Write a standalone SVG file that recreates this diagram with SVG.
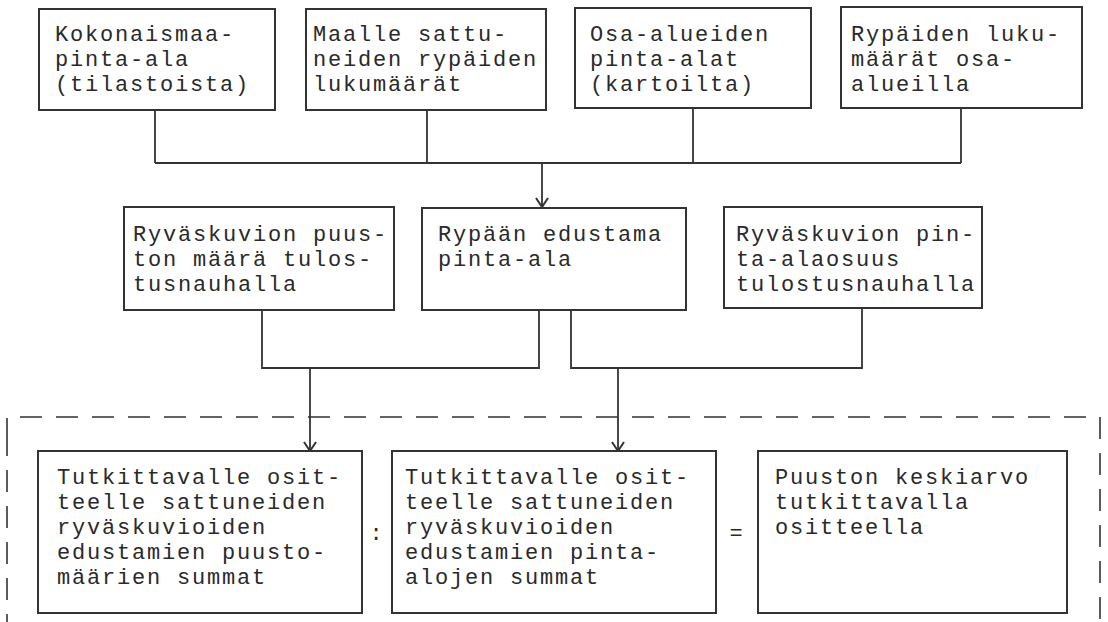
<svg xmlns="http://www.w3.org/2000/svg" width="1108" height="622" viewBox="0 0 1108 622">
<style>
.box{fill:#fff;stroke:#333;stroke-width:2}
.t{font-family:"Liberation Mono","Courier New",monospace;font-size:22px;letter-spacing:1.8px;fill:#2a2a2a}
.c{fill:none;stroke:#333;stroke-width:1.8}
.d{fill:none;stroke:#333;stroke-width:1.6;stroke-dasharray:22 14}
</style>
<defs>
<marker id="ah" viewBox="0 0 12 14" refX="11" refY="7" markerWidth="12" markerHeight="14" markerUnits="userSpaceOnUse" orient="auto">
<polyline points="2,1 11,7 2,13" fill="none" stroke="#333" stroke-width="2"/>
</marker>
</defs>
<rect width="1108" height="622" fill="#fff"/>
<g id="frame">
<path class="d" d="M7,440 V417 H1100 V622"/>
<path class="d" d="M7,440 V622" style="stroke-dashoffset:6"/>
</g>
<g id="connectors">
<path class="c" d="M155,110 V163 M427,110 V163 M693,108 V163 M961,108 V163 M155,163 H961"/>
<path class="c" d="M542,163 V207" marker-end="url(#ah)"/>
<path class="c" d="M262,310 V368 H539 V310"/>
<path class="c" d="M571,310 V368 H862 V308"/>
<path class="c" d="M310,368 V451" marker-end="url(#ah)"/>
<path class="c" d="M618,368 V451" marker-end="url(#ah)"/>
</g>
<g id="n1"><rect class="box" x="39" y="9" width="236" height="101"/>
<text class="t" x="55" y="41">Kokonaismaa-</text><text class="t" x="55" y="66">pinta-ala</text><text class="t" x="55" y="91">(tilastoista)</text></g>
<g id="n2"><rect class="box" x="306" y="9" width="240" height="101"/>
<text class="t" x="313" y="41">Maalle sattu-</text><text class="t" x="313" y="66">neiden rypäiden</text><text class="t" x="313" y="91">lukumäärät</text></g>
<g id="n3"><rect class="box" x="575" y="8" width="236" height="100"/>
<text class="t" x="590" y="41">Osa-alueiden</text><text class="t" x="590" y="66">pinta-alat</text><text class="t" x="590" y="91">(kartoilta)</text></g>
<g id="n4"><rect class="box" x="841" y="7" width="241" height="101"/>
<text class="t" x="851" y="41">Rypäiden luku-</text><text class="t" x="851" y="66">määrät osa-</text><text class="t" x="851" y="91">alueilla</text></g>
<g id="n5"><rect class="box" x="124" y="207" width="270" height="103"/>
<text class="t" x="133" y="241">Ryväskuvion puus-</text><text class="t" x="133" y="266">ton määrä tulos-</text><text class="t" x="133" y="291">tusnauhalla</text></g>
<g id="n6"><rect class="box" x="422" y="208" width="264" height="102"/>
<text class="t" x="438" y="241">Rypään edustama</text><text class="t" x="438" y="266">pinta-ala</text></g>
<g id="n7"><rect class="box" x="724" y="207" width="258" height="101"/>
<text class="t" x="736" y="241">Ryväskuvion pin-</text><text class="t" x="736" y="266">ta-alaosuus</text><text class="t" x="736" y="291">tulostusnauhalla</text></g>
<g id="n8"><rect class="box" x="38" y="451" width="324" height="162"/>
<text class="t" x="57" y="484">Tutkittavalle osit-</text><text class="t" x="57" y="509">teelle sattuneiden</text><text class="t" x="57" y="534">ryväskuvioiden</text><text class="t" x="57" y="559">edustamien puusto-</text><text class="t" x="57" y="584">määrien summat</text></g>
<g id="n9"><rect class="box" x="392" y="451" width="324" height="162"/>
<text class="t" x="405" y="484">Tutkittavalle osit-</text><text class="t" x="405" y="509">teelle sattuneiden</text><text class="t" x="405" y="534">ryväskuvioiden</text><text class="t" x="405" y="559">edustamien pinta-</text><text class="t" x="405" y="584">alojen summat</text></g>
<g id="n10"><rect class="box" x="758" y="451" width="309" height="162"/>
<text class="t" x="775" y="484">Puuston keskiarvo</text><text class="t" x="775" y="509">tutkittavalla</text><text class="t" x="775" y="534">ositteella</text></g>
<g id="ops">
<text class="t" x="377" y="540" text-anchor="middle">:</text>
<text class="t" x="737" y="540" text-anchor="middle">=</text>
</g>
</svg>
